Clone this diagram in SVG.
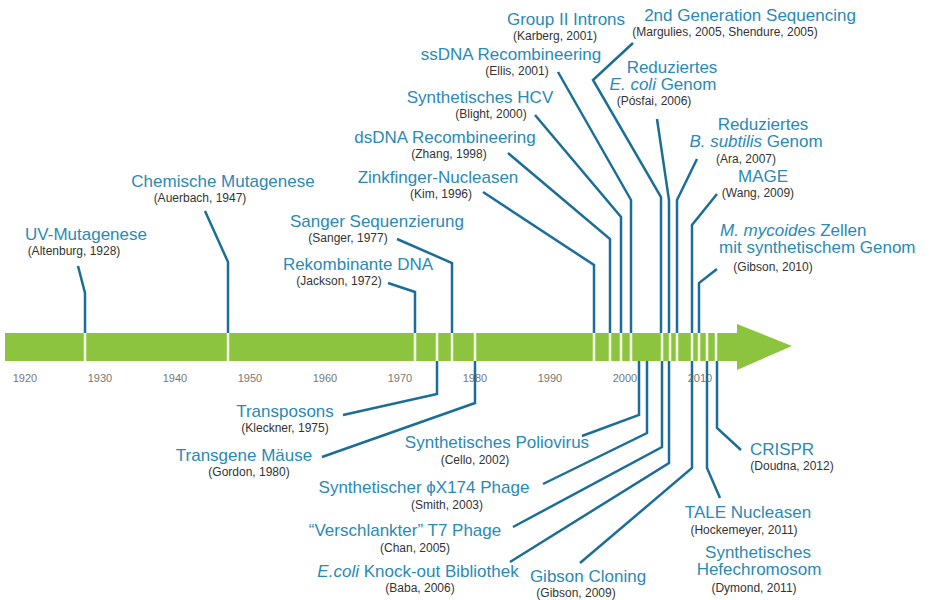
<svg xmlns="http://www.w3.org/2000/svg" width="931" height="600" viewBox="0 0 931 600">
<style>
text{font-family:"Liberation Sans",Arial,sans-serif;text-anchor:middle}
.t{font-size:17px;fill:#2a8ab4}
.c{font-size:12px;fill:#333}
.y{font-size:11px;fill:#777}
.l{fill:none;stroke:#1b6e96;stroke-width:2.5;stroke-linejoin:miter}
.g{stroke:#f4f8e8;stroke-width:2.5}
.i{font-style:italic}
.s{text-anchor:start}
</style>
<rect width="931" height="600" fill="#fff"/>
<g id="timeline">
<rect x="5" y="333" width="735" height="28" fill="#8dc43f"/>
<polygon points="737,324 792,346 737,370" fill="#8dc43f"/>
<g class="g">
<line x1="85" y1="333" x2="85" y2="361"/><line x1="228" y1="333" x2="228" y2="361"/>
<line x1="415" y1="333" x2="415" y2="361"/><line x1="437" y1="333" x2="437" y2="361"/>
<line x1="452" y1="333" x2="452" y2="361"/><line x1="475" y1="333" x2="475" y2="361"/>
<line x1="594" y1="333" x2="594" y2="361"/><line x1="610" y1="333" x2="610" y2="361"/>
<line x1="621" y1="333" x2="621" y2="361"/><line x1="631" y1="333" x2="631" y2="361"/>
<line x1="662" y1="333" x2="662" y2="361"/><line x1="670" y1="333" x2="670" y2="361"/>
<line x1="677" y1="333" x2="677" y2="361"/><line x1="692" y1="333" x2="692" y2="361"/>
<line x1="699" y1="333" x2="699" y2="361"/><line x1="707" y1="333" x2="707" y2="361"/>
<line x1="716" y1="333" x2="716" y2="361"/>
</g>
<g class="y">
<text x="25" y="382">1920</text><text x="100" y="382">1930</text><text x="175" y="382">1940</text>
<text x="250" y="382">1950</text><text x="325" y="382">1960</text><text x="400" y="382">1970</text>
<text x="475" y="382">1980</text><text x="550" y="382">1990</text><text x="625" y="382">2000</text>
<text x="700" y="382">2010</text>
</g>
</g>
<g id="connectors" class="l">
<polyline points="78,266 85,293 85,333"/>
<polyline points="205,211 228,262 228,333"/>
<polyline points="388,283 415,292 415,333"/>
<polyline points="397,239 452,263 452,333"/>
<polyline points="483,192 594,265 594,333"/>
<polyline points="508,153 610,239 610,333"/>
<polyline points="535,115 621,217 621,333"/>
<polyline points="558,72 631,200 631,333"/>
<polyline points="633,43 593,80 661,197 661,333"/>
<polyline points="657,119 669,200 669,333"/>
<polyline points="697,159 677,200 677,333"/>
<polyline points="717,194 692,225 692,333"/>
<polyline points="717,269 699,283 699,333"/>
<polyline points="343,415 437,394 437,361"/>
<polyline points="322,457 475,403 475,361"/>
<polyline points="582,436 639,415 639,361"/>
<polyline points="543,484 647,433 647,361"/>
<polyline points="513,527 662,447 662,361"/>
<polyline points="510,562 669,463 669,361"/>
<polyline points="580,563 692,468 692,361"/>
<polyline points="720,498 707,468 707,361"/>
<polyline points="741,450 717,428 717,361"/>
</g>
<g id="uv"><text class="t" x="86" y="240">UV-Mutagenese</text><text class="c" x="74" y="255">(Altenburg, 1928)</text></g>
<g id="chem"><text class="t" x="223" y="187">Chemische Mutagenese</text><text class="c" x="200" y="202">(Auerbach, 1947)</text></g>
<g id="sanger"><text class="t" x="377" y="227">Sanger Sequenzierung</text><text class="c" x="348" y="242">(Sanger, 1977)</text></g>
<g id="rekomb"><text class="t" x="358" y="270">Rekombinante DNA</text><text class="c" x="339" y="285">(Jackson, 1972)</text></g>
<g id="zink"><text class="t" x="438" y="183">Zinkfinger-Nucleasen</text><text class="c" x="441" y="198">(Kim, 1996)</text></g>
<g id="dsdna"><text class="t" x="445" y="143">dsDNA Recombineering</text><text class="c" x="449" y="158">(Zhang, 1998)</text></g>
<g id="hcv"><text class="t" x="480" y="103">Synthetisches HCV</text><text class="c" x="491" y="118">(Blight, 2000)</text></g>
<g id="ssdna"><text class="t" x="511" y="60">ssDNA Recombineering</text><text class="c" x="517" y="75">(Ellis, 2001)</text></g>
<g id="group2"><text class="t" x="566" y="25">Group II Introns</text><text class="c" x="555" y="40">(Karberg, 2001)</text></g>
<g id="ngs"><text class="t" x="750" y="21">2nd Generation Sequencing</text><text class="c" x="725" y="36">(Margulies, 2005, Shendure, 2005)</text></g>
<g id="ecoli"><text class="t" x="672" y="73">Reduziertes</text><text class="t" x="663" y="90"><tspan class="i">E. coli</tspan> Genom</text><text class="c" x="654" y="105">(Pósfai, 2006)</text></g>
<g id="bsub"><text class="t" x="763" y="130">Reduziertes</text><text class="t" x="756" y="147"><tspan class="i">B. subtilis</tspan> Genom</text><text class="c" x="746" y="163">(Ara, 2007)</text></g>
<g id="mage"><text class="t" x="763" y="182">MAGE</text><text class="c" x="758" y="197">(Wang, 2009)</text></g>
<g id="mmyc"><text class="t s" x="720" y="236"><tspan class="i">M. mycoides</tspan> Zellen</text><text class="t s" x="719" y="253">mit synthetischem Genom</text><text class="c" x="773" y="271">(Gibson, 2010)</text></g>
<g id="transposons"><text class="t" x="285" y="417">Transposons</text><text class="c" x="285" y="432">(Kleckner, 1975)</text></g>
<g id="mause"><text class="t" x="244" y="461">Transgene Mäuse</text><text class="c" x="249" y="476">(Gordon, 1980)</text></g>
<g id="polio"><text class="t" x="497" y="448">Synthetisches Poliovirus</text><text class="c" x="475" y="464">(Cello, 2002)</text></g>
<g id="phix"><text class="t" x="424" y="493">Synthetischer ϕX174 Phage</text><text class="c" x="447" y="509">(Smith, 2003)</text></g>
<g id="t7"><text class="t" x="405" y="536">“Verschlankter” T7 Phage</text><text class="c" x="415" y="552">(Chan, 2005)</text></g>
<g id="knockout"><text class="t" x="418" y="577"><tspan class="i">E.coli</tspan> Knock-out Bibliothek</text><text class="c" x="420" y="592">(Baba, 2006)</text></g>
<g id="gibson"><text class="t" x="588" y="582">Gibson Cloning</text><text class="c" x="576" y="597">(Gibson, 2009)</text></g>
<g id="crispr"><text class="t" x="782" y="455">CRISPR</text><text class="c" x="792" y="470">(Doudna,  2012)</text></g>
<g id="tale"><text class="t" x="748" y="518">TALE Nucleasen</text><text class="c" x="744" y="534">(Hockemeyer,  2011)</text></g>
<g id="yeast"><text class="t" x="758" y="558">Synthetisches</text><text class="t" x="759" y="575">Hefechromosom</text><text class="c" x="754" y="592">(Dymond, 2011)</text></g>
</svg>
